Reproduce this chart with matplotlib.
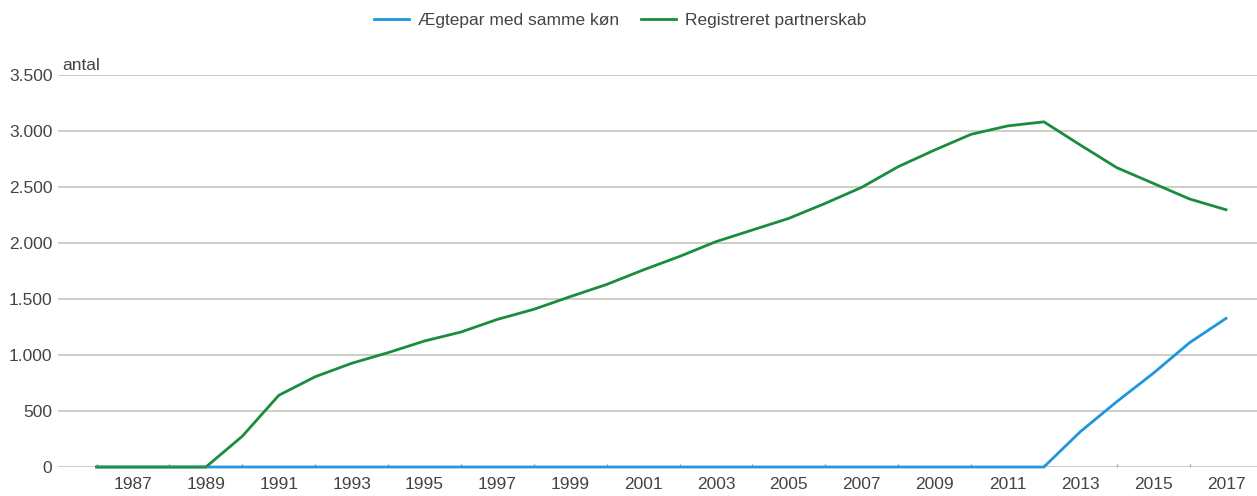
import numpy as np
from matplotlib import pyplot as plt
from matplotlib.ticker import FuncFormatter, MultipleLocator

plt.rcParams['font.family'] = ['Liberation Sans', 'DejaVu Sans']

years = list(range(1986, 2018))

# Ægtepar med samme køn
aegtepar = [0] * 27 + [315, 583, 836, 1110, 1327]

# Registreret partnerskab
partnerskab = [0, 0, 0, 0, 275, 640, 806, 926, 1021, 1125, 1205, 1318, 1408, 1521,
               1630, 1759, 1880, 2012, 2116, 2220, 2354, 2497, 2681, 2830, 2970,
               3045, 3082, 2875, 2673, 2533, 2393, 2297]

txtCol = '#444444'
blueCol = '#1f96dc'
greenCol = '#1a8c3f'
gridCol = '#cacac2'

fig = plt.figure(figsize=(12.57, 4.96), dpi=100)
ax = fig.add_axes([58 / 1257, 1 - 467 / 496, 1 - 58 / 1257, (467 - 75) / 496])

ax.plot(years, aegtepar, color=blueCol, lw=2.0, label='Ægtepar med samme køn', zorder=3, clip_on=False)
ax.plot(years, partnerskab, color=greenCol, lw=2.0, label='Registreret partnerskab', zorder=4, clip_on=False)
# baseline drawn over the series, as in the original
ax.axhline(0, color='#c8c8c0', lw=1.0, alpha=0.5, zorder=5)

ax.set_xlim(1984.94, 2017.85)
ax.set_ylim(0, 3500)

ax.yaxis.set_major_locator(MultipleLocator(500))
ax.yaxis.set_major_formatter(FuncFormatter(lambda v, p: '{:,.0f}'.format(v).replace(',', '.')))
ax.set_xticks(list(range(1987, 2018, 2)))
ax.set_xticks(years, minor=True)
ax.grid(axis='y', color=gridCol, lw=1.3, zorder=0)

for s in ax.spines.values():
    s.set_visible(False)

ax.tick_params(axis='y', length=0, pad=4, labelsize=12.5, labelcolor=txtCol)
ax.tick_params(axis='x', which='major', length=0, pad=7, labelsize=12.5, labelcolor=txtCol)
ax.tick_params(axis='x', which='minor', length=2, direction='in', color='#8a9aa2', width=1)

fig.text(62 / 1257, 1 - 70 / 496, 'antal', fontsize=12.5, color=txtCol, ha='left', va='baseline')

fig.legend(loc='upper center', bbox_to_anchor=(0.4935, 1.005), ncol=2, frameon=False,
           fontsize=12.5, handlelength=2.0, handletextpad=0.5, columnspacing=1.3,
           labelcolor=txtCol)

fig.savefig('out.png', dpi=100)
